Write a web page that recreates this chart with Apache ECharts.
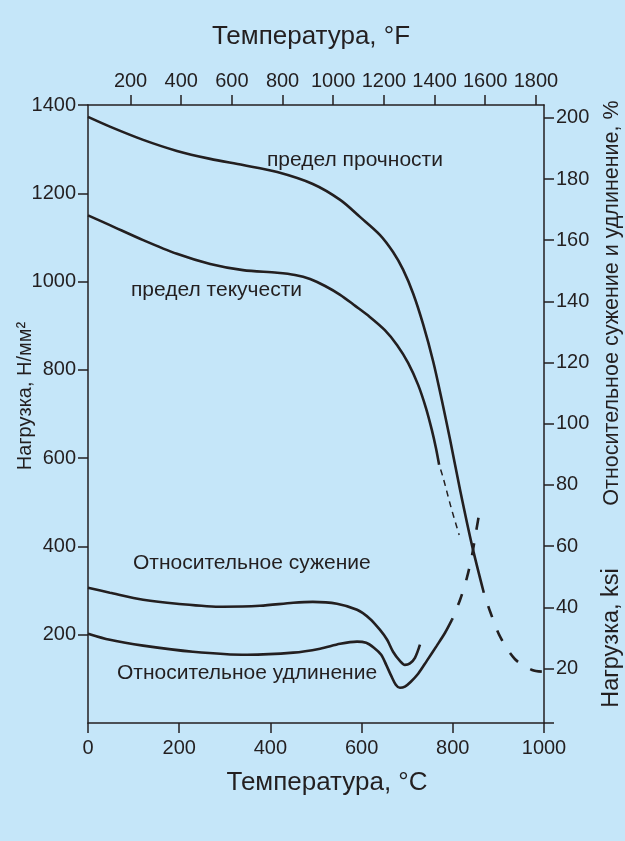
<!DOCTYPE html>
<html>
<head>
<meta charset="utf-8">
<script src="https://cdn.jsdelivr.net/npm/echarts@6/dist/echarts.min.js"></script>
<style>
  html, body { margin: 0; padding: 0; background: #c5e6f9; }
  #chart { width: 625px; height: 841px; }
</style>
</head>
<body>
<div id="chart"></div>
<script>
  // [температура °C, нагрузка Н/мм2]
  var tensileSolid = [[0,1373],[48,1351],[121,1321],[195,1296],[268,1278],[340,1264],[415,1248],
    [493,1221],[553,1185],[597,1146],[640,1106],[669,1067],[691,1027],[713,973],[735,903],
    [757,819],[776,731],[794,642],[816,528],[842,403],[868,295]];
  var tensileDashed = [[868,295],[882,252],[904,195],[936,145],[974,120],[1000,116]];
  var yieldSolid = [[0,1150],[48,1128],[121,1094],[195,1063],[268,1040],[340,1026],[415,1020],
    [454,1015],[487,1006],[520,990],[553,970],[586,945],[618,920],[651,890],[678,856],
    [702,816],[724,766],[741,714],[754,664],[763,623],[770,585]];
  var yieldDashed = [[770,585],[779,555],[796,489],[814,426]];
  // [температура °C, %]
  var reduction = [[0,46.4],[48,44.8],[121,42.5],[195,41.2],[296,40.2],[377,40.5],[450,41.5],
    [493,41.8],[546,41.2],[590,39.2],[618,36.3],[640,32.7],[656,29.4],[669,25.5],[684,22.5],
    [695,21.2],[706,21.7],[717,23.5],[728,27.8]];
  var elongation = [[0,31.4],[48,29.4],[121,27.5],[230,25.5],[349,24.5],[450,25.2],[509,26.5],
    [553,28.1],[590,28.8],[610,28.4],[627,26.8],[643,24.5],[654,21.2],[665,17.6],[675,14.7],
    [684,13.7],[695,14.1],[708,15.7],[724,18.3],[743,22.5],[765,27.5],[783,31.7],[798,35.9]];
  var elongationDashed = [[798,35.9],[816,42.5],[831,49.7],[842,56.9],[851,64.7],[860,72.5]];

  var fahrenheitTicks = [200,400,600,800,1000,1200,1400,1600,1800];
  var rightTicks = [20,40,60,80,100,120,140,160,180,200];

  var ink = '#231f20';
  var font = '"Liberation Sans", Arial, sans-serif';

  var myChart = echarts.init(document.getElementById('chart'));

  function axisStyle(extra) {
    var o = {
      type: 'value',
      axisLine: { show: true, onZero: false, lineStyle: { color: ink, width: 1.5 } },
      axisTick: { show: true, length: 10, lineStyle: { color: ink, width: 1.5 } },
      axisLabel: { color: ink, fontSize: 20, fontFamily: font,
        formatter: function (v) { return String(v); } },
      splitLine: { show: false }
    };
    for (var k in extra) {
      if (typeof extra[k] === 'object' && o[k]) {
        for (var j in extra[k]) o[k][j] = extra[k][j];
      } else o[k] = extra[k];
    }
    return o;
  }

  function line(data, yIdx, width, dash, offset) {
    return {
      type: 'line',
      xAxisIndex: 0,
      yAxisIndex: yIdx,
      data: data,
      smooth: 0.3,
      symbol: 'none',
      silent: true,
      lineStyle: { color: ink, width: width, type: dash || 'solid', dashOffset: offset || 0, cap: 'butt' }
    };
  }

  function label(text, x, y, size, align, rot) {
    return {
      type: 'text',
      x: x, y: y,
      rotation: rot || 0,
      style: {
        text: text,
        fill: ink,
        font: size + 'px ' + font,
        textAlign: align || 'center',
        textVerticalAlign: 'middle'
      }
    };
  }

  var option = {
    backgroundColor: '#c5e6f9',
    animation: false,
    grid: { left: 88, right: 81, top: 105, bottom: 118 },
    xAxis: [
      axisStyle({ position: 'bottom', min: 0, max: 1000, interval: 200,
        axisLabel: { margin: 15 } }),
      axisStyle({ position: 'top', min: 32, max: 1832,
        axisTick: { customValues: fahrenheitTicks },
        axisLabel: { customValues: fahrenheitTicks, margin: 14 } })
    ],
    yAxis: [
      axisStyle({ position: 'left', min: 0, max: 1400, interval: 200,
        axisLabel: { margin: 12, showMinLabel: false } }),
      axisStyle({ position: 'right', min: 2.2, max: 204.2,
        axisTick: { customValues: [2.2].concat(rightTicks) },
        axisLabel: { customValues: rightTicks, margin: 12 } })
    ],
    series: [
      line(tensileSolid, 0, 2.6),
      line(tensileDashed, 0, 2.6, [12, 14], 12),
      line(yieldSolid, 0, 2.6),
      line(yieldDashed, 0, 1.5, [6, 5], 6),
      line(reduction, 1, 2.6),
      line(elongation, 1, 2.6),
      line(elongationDashed, 1, 2.6, [12, 14], 10)
    ],
    graphic: [
      label('Температура, °F', 311, 37, 26),
      label('Температура, °C', 327, 783, 26),
      label('Нагрузка, Н/мм²', 25, 396, 20, 'center', Math.PI / 2),
      label('Относительное сужение и удлинение, %', 612, 303, 21.5, 'center', Math.PI / 2),
      label('Нагрузка, ksi', 612, 638, 23.5, 'center', Math.PI / 2),
      label('предел прочности', 267, 160, 21, 'left'),
      label('предел текучести', 131, 290, 21, 'left'),
      label('Относительное сужение', 133, 563, 21, 'left'),
      label('Относительное удлинение', 117, 673, 21, 'left')
    ]
  };

  myChart.setOption(option);
</script>
</body>
</html>
